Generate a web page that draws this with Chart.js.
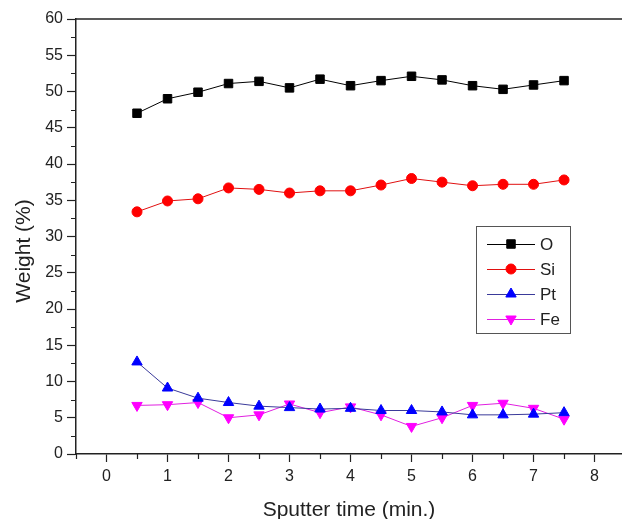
<!DOCTYPE html>
<html>
<head>
<meta charset="utf-8">
<script src="https://cdn.jsdelivr.net/npm/chart.js@4.4.1/dist/chart.umd.min.js"></script>
<style>
    html, body { margin: 0; padding: 0; background: #fff; }
</style>
</head>
<body>
<canvas id="depthChart" width="622" height="519"></canvas>
<script>
// Sputter times (min.) and weight % per element
const times = [0.5, 1, 1.5, 2, 2.5, 3, 3.5, 4, 4.5, 5, 5.5, 6, 6.5, 7, 7.5];
const oxygen = [47.0, 49.0, 49.9, 51.1, 51.4, 50.5, 51.7, 50.8, 51.5, 52.1, 51.6, 50.8, 50.3, 50.9, 51.5];
const silicon = [33.4, 34.9, 35.2, 36.7, 36.5, 36.0, 36.3, 36.3, 37.1, 38.0, 37.5, 37.0, 37.2, 37.2, 37.8];
const platinum = [12.7, 9.1, 7.7, 7.1, 6.6, 6.4, 6.2, 6.3, 6.0, 6.0, 5.8, 5.4, 5.4, 5.5, 5.7];
const iron = [6.7, 6.8, 7.1, 5.0, 5.4, 6.9, 5.7, 6.5, 5.4, 3.8, 5.0, 6.7, 7.0, 6.3, 4.8];

const xTicks = [0, 1, 2, 3, 4, 5, 6, 7, 8];
const xMinorTicks = [-0.5, 0.5, 1.5, 2.5, 3.5, 4.5, 5.5, 6.5, 7.5];
const yMinorTicks = [2.5, 7.5, 12.5, 17.5, 22.5, 27.5, 32.5, 37.5, 42.5, 47.5, 52.5, 57.5];

const FONT = "'Liberation Sans', Arial, sans-serif";
const INK = '#222';

const pts = vals => vals.map((v, i) => ({ x: times[i], y: v }));

const series = [
    { label: 'O', data: oxygen, line: '#000000', fill: '#000000', style: 'rect', radius: 6, rotation: 0 },
    { label: 'Si', data: silicon, line: '#e01010', fill: '#ff0000', style: 'circle', radius: 5, rotation: 0 },
    { label: 'Pt', data: platinum, line: '#3a3a9a', fill: '#0000ff', style: 'triangle', radius: 6, rotation: 0 },
    { label: 'Fe', data: iron, line: '#e020e0', fill: '#ff00ff', style: 'triangle', radius: 6, rotation: 180 }
];

// frame top line, minor ticks, y title and the inset legend
const extras = {
    id: 'extras',
    afterDraw(chart) {
        const { ctx, chartArea, scales } = chart;
        ctx.save();
        ctx.strokeStyle = INK;
        ctx.lineWidth = 1.5;
        ctx.beginPath();
        ctx.moveTo(chartArea.left, chartArea.top);
        ctx.lineTo(chartArea.right, chartArea.top);
        ctx.stroke();

        ctx.lineWidth = 1.2;
        ctx.beginPath();
        xMinorTicks.forEach(v => {
            const px = Math.round(scales.x.getPixelForValue(v)) + 0.5;
            ctx.moveTo(px, chartArea.bottom);
            ctx.lineTo(px, chartArea.bottom + 5);
        });
        yMinorTicks.forEach(v => {
            const py = Math.round(scales.y.getPixelForValue(v)) + 0.5;
            ctx.moveTo(chartArea.left, py);
            ctx.lineTo(chartArea.left - 5, py);
        });
        ctx.stroke();

        // y axis title, sits a little below the axis middle in the original
        ctx.save();
        ctx.translate(24, 251);
        ctx.rotate(-Math.PI / 2);
        ctx.font = '21px ' + FONT;
        ctx.fillStyle = INK;
        ctx.textAlign = 'center';
        ctx.textBaseline = 'middle';
        ctx.fillText('Weight (%)', 0, 0);
        ctx.restore();

        // legend box
        const bx = 476, by = 226, bw = 94, bh = 107;
        ctx.strokeStyle = '#555';
        ctx.lineWidth = 1;
        ctx.strokeRect(bx + 0.5, by + 0.5, bw, bh);
        ctx.font = '17px ' + FONT;
        ctx.textBaseline = 'middle';
        ctx.textAlign = 'left';
        series.forEach((s, i) => {
            const y = 244 + i * 25;
            ctx.strokeStyle = s.line;
            ctx.lineWidth = 1;
            ctx.beginPath();
            ctx.moveTo(487, y + 0.5);
            ctx.lineTo(535, y + 0.5);
            ctx.stroke();
            ctx.fillStyle = s.fill;
            ctx.strokeStyle = s.fill;
            Chart.helpers.drawPoint(ctx, { pointStyle: s.style, rotation: s.rotation, radius: s.radius, borderWidth: 1 }, 511, y);
            ctx.fillStyle = INK;
            ctx.fillText(s.label, 540, y + 1);
        });
        ctx.restore();
    }
};

const ctx = document.getElementById('depthChart').getContext('2d');
new Chart(ctx, {
    type: 'line',
    data: {
        datasets: series.map(s => ({
            label: s.label,
            data: pts(s.data),
            borderColor: s.line,
            borderWidth: 1,
            backgroundColor: s.fill,
            pointBackgroundColor: s.fill,
            pointBorderColor: s.fill,
            pointStyle: s.style,
            pointRadius: s.radius,
            pointRotation: s.rotation,
            pointBorderWidth: 1,
            tension: 0
        }))
    },
    options: {
        responsive: false,
        animation: false,
        layout: { autoPadding: false, padding: { top: 19, right: 0, left: 0, bottom: 0 } },
        plugins: { legend: { display: false }, tooltip: { enabled: false } },
        scales: {
            x: {
                type: 'linear',
                min: -0.5,
                max: 8.45,
                afterBuildTicks: s => { s.ticks = xTicks.map(v => ({ value: v })); },
                afterFit: s => { s.height = 65; s.paddingLeft = 0; s.paddingRight = 0; },
                ticks: { color: INK, padding: 5, font: { family: FONT, size: 16 } },
                grid: { drawOnChartArea: false, drawTicks: true, tickLength: 8, tickColor: INK, tickWidth: 1.2 },
                border: { color: INK, width: 1.5 },
                title: { display: true, text: 'Sputter time (min.)', color: INK, font: { family: FONT, size: 21, lineHeight: 1 }, padding: { top: 0, bottom: -2 } }
            },
            y: {
                min: 0,
                max: 60,
                afterFit: s => { s.width = 76; },
                ticks: { stepSize: 5, color: INK, padding: 4, font: { family: FONT, size: 16 } },
                grid: { drawOnChartArea: false, drawTicks: true, tickLength: 9, tickColor: INK, tickWidth: 1.2 },
                border: { color: INK, width: 1.5 }
            }
        }
    },
    plugins: [extras]
});
</script>
</body>
</html>
